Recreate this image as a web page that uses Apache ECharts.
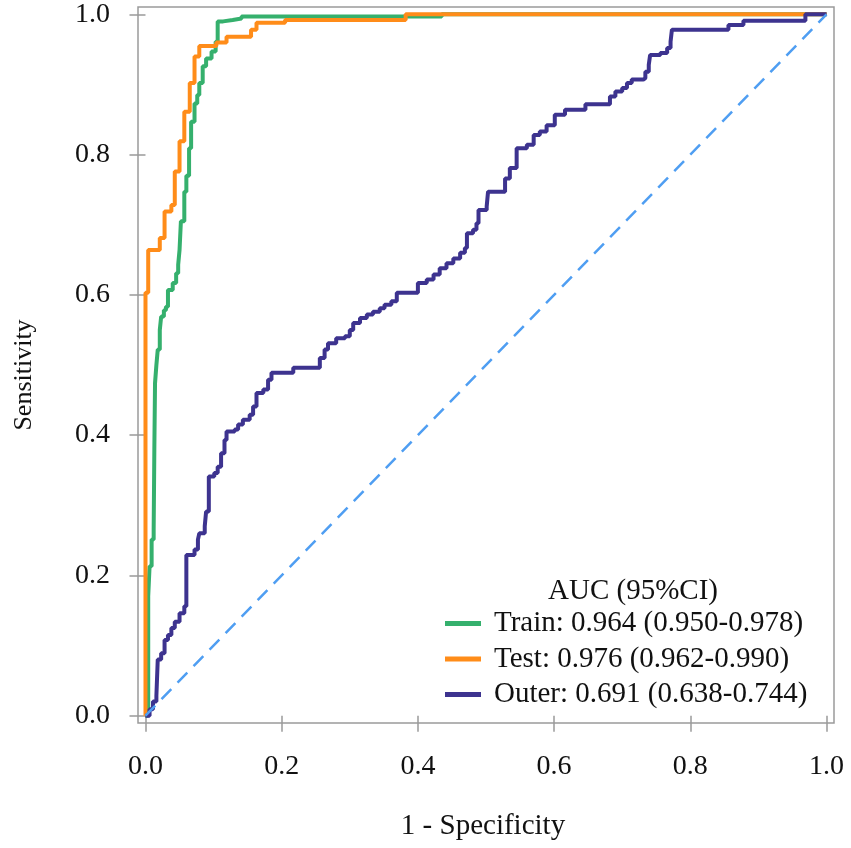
<!DOCTYPE html>
<html>
<head>
<meta charset="utf-8">
<script src="https://cdn.jsdelivr.net/npm/echarts@6/dist/echarts.min.js"></script>
<style>
  html, body { margin: 0; padding: 0; background: #fff; }
  #rocChart { width: 851px; height: 848px; }
</style>
</head>
<body>
<div id="rocChart"></div>
<script type="text/javascript">
// ROC points [1 - specificity, sensitivity]
var trainRoc = [[0,0],[0.004,0.17],[0.006,0.213],[0.009,0.251],[0.012,0.265],[0.013,0.38],[0.014,0.474],
  [0.016,0.50],[0.018,0.522],[0.021,0.55],[0.023,0.569],[0.027,0.578],[0.030,0.583],[0.033,0.607],[0.040,0.617],
  [0.045,0.631],[0.048,0.643],[0.050,0.664],[0.052,0.705],[0.057,0.747],[0.060,0.77],[0.064,0.809],[0.067,0.847],
  [0.072,0.873],[0.076,0.885],[0.079,0.902],[0.084,0.926],[0.089,0.937],[0.097,0.947],[0.103,0.961],[0.106,0.99],
  [0.114,0.992],[0.128,0.994],[0.141,0.997],[0.435,1],[1,1]];
var testRoc = [[0,0],[0,0.603],[0.004,0.664],[0.021,0.681],[0.028,0.719],[0.038,0.728],[0.043,0.776],[0.050,0.819],
  [0.057,0.861],[0.065,0.902],[0.072,0.94],[0.079,0.955],[0.104,0.96],[0.119,0.968],[0.155,0.978],[0.163,0.988],
  [0.205,0.992],[0.382,1],[1,1]];
var outerRoc = [[0,0],[0.006,0.009],[0.011,0.02],[0.016,0.028],[0.018,0.08],[0.023,0.089],[0.028,0.108],[0.033,0.115],
  [0.038,0.125],[0.043,0.134],[0.050,0.146],[0.057,0.156],[0.060,0.229],[0.072,0.237],[0.077,0.251],[0.079,0.26],
  [0.087,0.27],[0.089,0.291],[0.093,0.341],[0.101,0.346],[0.106,0.355],[0.111,0.374],[0.116,0.393],[0.119,0.405],
  [0.131,0.408],[0.136,0.415],[0.143,0.422],[0.153,0.429],[0.158,0.441],[0.163,0.46],[0.173,0.465],[0.180,0.479],
  [0.185,0.489],[0.217,0.496],[0.256,0.51],[0.263,0.522],[0.268,0.531],[0.280,0.538],[0.293,0.541],[0.300,0.55],
  [0.305,0.56],[0.315,0.567],[0.325,0.572],[0.334,0.576],[0.344,0.581],[0.351,0.586],[0.361,0.591],[0.369,0.603],
  [0.400,0.617],[0.413,0.622],[0.423,0.629],[0.432,0.638],[0.442,0.645],[0.452,0.652],[0.462,0.66],[0.469,0.667],
  [0.472,0.688],[0.481,0.693],[0.486,0.702],[0.489,0.721],[0.501,0.726],[0.503,0.747],[0.528,0.766],[0.535,0.781],
  [0.545,0.809],[0.560,0.814],[0.570,0.828],[0.579,0.833],[0.589,0.842],[0.601,0.857],[0.616,0.864],[0.646,0.872],
  [0.682,0.883],[0.690,0.89],[0.700,0.895],[0.707,0.902],[0.714,0.907],[0.731,0.909],[0.734,0.918],[0.739,0.928],
  [0.741,0.942],[0.756,0.945],[0.766,0.952],[0.771,0.961],[0.773,0.978],[0.856,0.985],[0.878,0.991],[0.969,1],[1,1]];
var refLine = [[0,0],[1,1]];

var cohortNames = ['Train', 'Test', 'Outer'];
var aucValues = ['0.964', '0.976', '0.691'];
var ciLow = ['0.950', '0.962', '0.638'];
var ciHigh = ['0.978', '0.990', '0.744'];
var tickValues = [0, 0.2, 0.4, 0.6, 0.8, 1.0];

var serif = '"Liberation Serif", "Times New Roman", serif';

var myChart = echarts.init(document.getElementById('rocChart'));
var option = {
  backgroundColor: '#fff',
  animation: false,
  grid: { left: 138, right: 17, top: 7, bottom: 125, show: true, borderColor: '#9a9a9a', borderWidth: 1.5 },
  xAxis: {
    type: 'value', min: -0.011, max: 1.011,
    axisLine: { show: false },
    splitLine: { show: false },
    axisTick: { show: true, length: 16, customValues: tickValues, lineStyle: { color: '#9a9a9a', width: 1.5 } },
    axisLabel: { customValues: tickValues, margin: 30, fontFamily: serif, fontSize: 28, color: '#111',
      formatter: function (v) { return v.toFixed(1); } }
  },
  yAxis: {
    type: 'value', min: -0.0105, max: 1.0105,
    axisLine: { show: false },
    splitLine: { show: false },
    axisTick: { show: true, length: 16, customValues: tickValues, lineStyle: { color: '#9a9a9a', width: 1.5 } },
    axisLabel: { customValues: tickValues, margin: 28, fontFamily: serif, fontSize: 28, color: '#111',
      formatter: function (v) { return v.toFixed(1); } }
  },
  legend: {
    data: cohortNames,
    orient: 'vertical',
    left: 440, top: 603,
    icon: 'rect', itemWidth: 36, itemHeight: 5, itemGap: 4.5,
    textStyle: { fontFamily: serif, fontSize: 29, color: '#111', lineHeight: 31, padding: [0, 0, 0, 8] },
    formatter: function (name) {
      var i = cohortNames.indexOf(name);
      return name + ': ' + aucValues[i] + ' (' + ciLow[i] + '-' + ciHigh[i] + ')';
    }
  },
  graphic: [
    { type: 'text', x: 633, y: 591, style: { text: 'AUC (95%CI)', font: '29px ' + serif, fill: '#111', textAlign: 'center', textVerticalAlign: 'middle' } },
    { type: 'text', x: 483, y: 826, style: { text: '1 - Specificity', font: '29px ' + serif, fill: '#111', textAlign: 'center', textVerticalAlign: 'middle' } },
    { type: 'text', x: 24, y: 375, rotation: Math.PI / 2, style: { text: 'Sensitivity', font: '26px ' + serif, fill: '#111', textAlign: 'center', textVerticalAlign: 'middle' } }
  ],
  series: [
    { name: 'Train', type: 'line', data: trainRoc, step: 'end', showSymbol: false,
      itemStyle: { color: '#35b06d' }, lineStyle: { color: '#35b06d', width: 4 } },
    { name: 'Test', type: 'line', data: testRoc, step: 'end', showSymbol: false,
      itemStyle: { color: '#ff8c19' }, lineStyle: { color: '#ff8c19', width: 4 } },
    { name: 'Outer', type: 'line', data: outerRoc, step: 'end', showSymbol: false,
      itemStyle: { color: '#3d338f' }, lineStyle: { color: '#3d338f', width: 4 } },
    { name: 'ref', type: 'line', data: refLine, showSymbol: false, silent: true,
      lineStyle: { color: '#4f9ef2', width: 2.5, type: [14, 9] } }
  ]
};
myChart.setOption(option);
</script>
</body>
</html>
